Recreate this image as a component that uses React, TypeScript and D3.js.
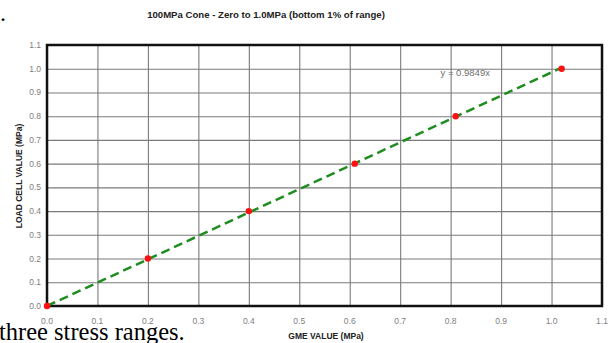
import { useEffect, useRef } from "react";
import * as d3 from "d3";

const gmeValues = [0.0, 0.2, 0.4, 0.61, 0.81, 1.02];
const loadValues = [0.0, 0.2, 0.4, 0.6, 0.8, 1.0];
const ticks = [0, 0.1, 0.2, 0.3, 0.4, 0.5, 0.6, 0.7, 0.8, 0.9, 1.0, 1.1];
const slope = 0.9849;

const App = () => {
    const chartRef = useRef<SVGSVGElement>(null);

    useEffect(() => {
        const width = 610;
        const height = 343;
        const margin = { top: 45, right: 8, bottom: 37, left: 47 };
        const w = width - margin.left - margin.right;
        const h = height - margin.top - margin.bottom;

        const svg = d3.select(chartRef.current)
            .attr("width", width)
            .attr("height", height);

        svg.append("rect").attr("width", width).attr("height", height).attr("fill", "white");

        const g = svg.append("g")
            .attr("transform", `translate(${margin.left},${margin.top})`);

        const x = d3.scaleLinear().domain([0, 1.1]).range([0, w]);
        const y = d3.scaleLinear().domain([0, 1.1]).range([h, 0]);

        // grid
        g.append("g")
            .call(d3.axisLeft(y).tickValues(ticks).tickSize(-w).tickFormat(() => ""))
            .call(s => s.select(".domain").remove())
            .selectAll("line")
            .attr("stroke", "#7a7a7a")
            .attr("stroke-width", 1.1);

        g.append("g")
            .attr("transform", `translate(0,${h})`)
            .call(d3.axisBottom(x).tickValues(ticks).tickSize(-h).tickFormat(() => ""))
            .call(s => s.select(".domain").remove())
            .selectAll("line")
            .attr("stroke", "#7a7a7a")
            .attr("stroke-width", 1.1);

        // border
        g.append("rect")
            .attr("x", 0).attr("y", 0)
            .attr("width", w).attr("height", h)
            .attr("fill", "none")
            .attr("stroke", "#111")
            .attr("stroke-width", 2.5);

        // tick labels
        const fmt = d3.format(".1f");
        g.append("g")
            .selectAll("text")
            .data(ticks)
            .enter()
            .append("text")
            .attr("x", -6)
            .attr("y", d => y(d))
            .attr("dy", "0.35em")
            .attr("text-anchor", "end")
            .style("font-family", "Liberation Sans, Arial, sans-serif")
            .style("font-size", "8.5px")
            .style("fill", "#808080")
            .text(d => fmt(d));

        g.append("g")
            .selectAll("text")
            .data(ticks)
            .enter()
            .append("text")
            .attr("x", d => x(d))
            .attr("y", h + 18)
            .attr("text-anchor", "middle")
            .style("font-family", "Liberation Sans, Arial, sans-serif")
            .style("font-size", "8.5px")
            .style("fill", "#808080")
            .text(d => fmt(d));

        // trend line
        const xMax = d3.max(gmeValues) as number;
        g.append("line")
            .attr("x1", x(0)).attr("y1", y(0))
            .attr("x2", x(xMax)).attr("y2", y(slope * xMax))
            .attr("stroke", "#1e8c1e")
            .attr("stroke-width", 2.5)
            .attr("stroke-dasharray", "9,5");

        // points
        g.selectAll("circle")
            .data(gmeValues.map((v, i) => ({ gx: v, ly: loadValues[i] })))
            .enter()
            .append("circle")
            .attr("cx", d => x(d.gx))
            .attr("cy", d => y(d.ly))
            .attr("r", 3.2)
            .attr("fill", "#ff1010");

        g.append("text")
            .attr("x", x(0.78))
            .attr("y", y(0.98) + 3)
            .style("font-family", "Liberation Sans, Arial, sans-serif")
            .style("font-size", "9.5px")
            .style("fill", "#707070")
            .text(`y = ${slope}x`);

        // titles
        svg.append("text")
            .attr("x", 266)
            .attr("y", 18)
            .attr("text-anchor", "middle")
            .style("font-family", "Liberation Sans, Arial, sans-serif")
            .style("font-size", "9.6px")
            .style("font-weight", "bold")
            .style("fill", "#222")
            .text("100MPa Cone - Zero to 1.0MPa (bottom 1% of range)");

        svg.append("text")
            .attr("transform", `translate(22,176) rotate(-90)`)
            .attr("text-anchor", "middle")
            .style("font-family", "Liberation Sans, Arial, sans-serif")
            .style("font-size", "8.5px")
            .style("font-weight", "bold")
            .style("fill", "#222")
            .text("LOAD CELL VALUE (MPa)");

        svg.append("text")
            .attr("x", 326)
            .attr("y", 339)
            .attr("text-anchor", "middle")
            .style("font-family", "Liberation Sans, Arial, sans-serif")
            .style("font-size", "8.5px")
            .style("font-weight", "bold")
            .style("fill", "#222")
            .text("GME VALUE (MPa)");

        // surrounding document fragments
        svg.append("text")
            .attr("x", 0)
            .attr("y", 21)
            .style("font-family", "Liberation Serif, serif")
            .style("font-size", "24px")
            .style("fill", "#000")
            .text(".");

        svg.append("text")
            .attr("x", -1)
            .attr("y", 340)
            .style("font-family", "Liberation Serif, serif")
            .style("font-size", "24.5px")
            .style("fill", "#000")
            .text("three stress ranges.");

        return () => {
            d3.select(chartRef.current).selectAll("*").remove();
        };
    }, []);

    return (
        <svg
            ref={chartRef}
            style={{ position: "absolute", left: 0, top: 0, display: "block" }}
        ></svg>
    );
};

export default App;
